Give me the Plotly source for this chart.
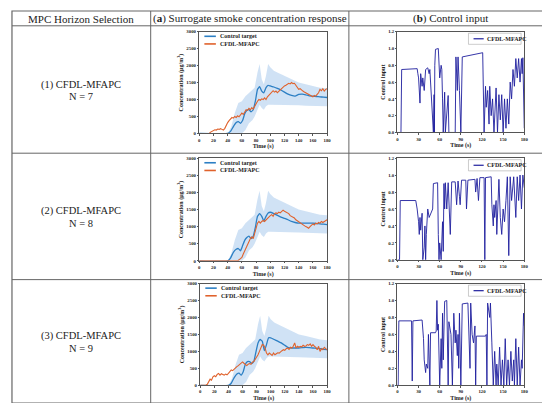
import plotly.graph_objects as go

# ---------------- data ----------------
row_labels = ["(1) CFDL-MFAPC", "(2) CFDL-MFAPC", "(3) CFDL-MFAPC"]
row_n = ["N = 7", "N = 8", "N = 9"]
headers = ["MPC Horizon Selection",
           "(<b>a</b>) Surrogate smoke concentration response",
           "(<b>b</b>) Control input"]

conc_xticks = [0, 20, 40, 60, 80, 100, 120, 140, 160, 180]
conc_yticks = [0, 500, 1000, 1500, 2000, 2500, 3000]
ctrl_xticks = [0, 30, 60, 90, 120, 150, 180]
ctrl_yticks = [0.0, 0.2, 0.4, 0.6, 0.8, 1.0, 1.2]

# uncertainty band around the control target
band_t = [0, 40, 45, 50, 55, 60, 65, 70, 75, 78, 82, 85, 88, 91, 94, 97, 100, 105, 110, 120, 130, 140, 150, 160, 170, 180]
band_hi = [0, 0, 200, 600, 900, 950, 1100, 1200, 1300, 1350, 1800, 2050, 1600, 1450, 1700, 2050, 1950, 1850, 1800, 1700, 1600, 1500, 1450, 1400, 1350, 1330]
band_lo = [0, 0, 0, 0, 0, 0, 100, 300, 400, 500, 700, 850, 750, 700, 800, 850, 850, 850, 850, 850, 850, 830, 820, 810, 800, 800]

# control target (blue)
target_t = [0, 40, 44, 48, 52, 55, 58, 61, 64, 67, 70, 73, 76, 79, 82, 85, 88, 91, 94, 97, 100, 105, 110, 115, 120, 125, 130, 135, 140, 145, 150, 155, 160, 165, 170, 175, 180]
target_1 = [0, 0, 60, 200, 320, 350, 300, 380, 580, 680, 700, 640, 700, 950, 1300, 1380, 1250, 1200, 1350, 1420, 1400, 1370, 1330, 1280, 1220, 1160, 1120, 1100, 1150, 1160, 1140, 1110, 1100, 1090, 1080, 1070, 1060]
target_2 = [0, 0, 80, 250, 340, 360, 290, 440, 600, 680, 720, 650, 720, 980, 1300, 1380, 1300, 1160, 1300, 1400, 1420, 1380, 1330, 1280, 1240, 1200, 1150, 1120, 1100, 1100, 1100, 1100, 1100, 1090, 1080, 1070, 1060]
target_3 = [0, 0, 60, 220, 330, 360, 300, 400, 620, 700, 700, 640, 700, 980, 1250, 1350, 1300, 1020, 1200, 1400, 1400, 1350, 1300, 1250, 1180, 1110, 1100, 1100, 1100, 1110, 1120, 1110, 1100, 1090, 1080, 1060, 1050]

# CFDL-MFAPC response (orange)
resp_t = list(range(0, 182, 2))
resp_1 = [0, 0, 0, 0, 0, 0, 0, 0, 40, 70, 90, 110, 100, 130, 120, 140, 120, 100, 150, 250,
          320, 380, 430, 470, 450, 500, 470, 520, 490, 540, 600, 560, 640, 700, 680, 740, 700, 760, 720, 800,
          900, 950, 1000, 980, 1020, 1000, 1050, 1000, 1080, 1120, 1150, 1200, 1260, 1220, 1250, 1200, 1240, 1300, 1320, 1360,
          1400, 1420, 1450, 1480, 1460, 1500, 1470, 1480, 1420, 1350, 1300, 1320, 1270, 1250, 1220, 1200, 1180, 1150, 1120, 1100,
          1080, 1120, 1100, 1150, 1200, 1300, 1260, 1320, 1250, 1300, 1320]
resp_2 = [0, 0, 0, 0, 0, 0, 0, 0, 0, 0, 0, 0, 0, 0, 0, 0, 0, 0, 0, 0,
          0, 0, 0, 0, 0, 0, 0, 0, 30, 60, 100, 200, 300, 400, 500, 600, 650, 700, 650, 800,
          950, 1100, 1150, 1100, 1150, 1180, 1150, 1200, 1250, 1300, 1320, 1350, 1300, 1380, 1400, 1380, 1420, 1400, 1450, 1480,
          1450, 1420, 1400, 1380, 1320, 1300, 1280, 1250, 1200, 1170, 1150, 1100, 1080, 1050, 1020, 1000, 980, 950, 1000, 1050,
          1080, 1050, 1100, 1080, 1120, 1100, 1150, 1120, 1150, 1180, 1200]
resp_3 = [0, 0, 0, 0, 0, 30, 100, 180, 150, 250, 280, 250, 320, 350, 300, 340, 320, 300, 330, 310,
          350, 400, 450, 430, 480, 500, 550, 580, 620, 660, 690, 650, 600, 580, 620, 640, 620, 680, 700, 760,
          820, 900, 1000, 1100, 1200, 1180, 1100, 950, 900, 950, 920, 880, 950, 900, 930, 960, 950, 1000, 1020, 1050,
          1030, 1080, 1100, 1060, 1120, 1100, 1150, 1250, 1100, 1150, 1120, 1150, 1130, 1180, 1150, 1160, 1200, 1180, 1220, 1150,
          1200, 1150, 1120, 1050, 1150, 1000, 1080, 1050, 1120, 1080, 1050]

# control input (navy)
ctrl_t_1 = [0, 5, 6, 28, 29, 30, 32, 33, 35, 36, 38, 40, 43, 45, 46, 48, 49, 51, 52, 52.5, 53, 54, 58, 59, 60, 62, 63, 64,
            65, 67, 68, 72, 73, 82, 83, 85, 86, 88, 90, 92, 121, 123, 125, 126, 128, 130, 131, 133, 135, 137, 140, 142,
            144, 146, 148, 150, 152, 154, 156, 158, 160, 162, 164, 166, 168, 170, 172, 174, 176, 177, 178, 180]
ctrl_1 = [0, 0, 0.75, 0.76, 0.70, 0.65, 0.35, 0.70, 0.55, 0.65, 0.50, 0.75, 0.77, 0.70, 0.75, 0.45, 0.25, 0.0, 0.45, 0.0,
          0.80, 0.99, 1.0, 0.80, 0.65, 0.80, 0.75, 0.40, 0.0, 0.48, 0.0, 0.44, 0.0, 0.0, 0.90, 0.50, 0.90, 0.50, 0.0, 0.90,
          0.95, 0.0, 0.55, 0.30, 0.50, 0.10, 0.55, 0.20, 0.40, 0.0, 0.53, 0.0, 0.45, 0.15, 0.45, 0.0, 0.40, 0.05, 0.40, 0.10,
          0.60, 0.40, 0.75, 0.55, 0.88, 0.65, 0.88, 0.60, 0.88, 0.70, 0.89, 0.05]
ctrl_t_2 = [0, 3, 4, 26, 28, 29, 30, 31, 32, 33, 35, 36, 38, 39, 40, 41, 42, 43, 45, 48, 50, 51, 57, 58, 59, 60, 62, 64, 65,
            66, 67, 68, 70, 72, 75, 77, 82, 84, 86, 88, 89, 91, 97, 98, 100, 110, 111, 113, 115, 117, 123, 124, 125, 133,
            134, 136, 137, 138, 140, 141, 142, 144, 146, 148, 150, 152, 154, 156, 158, 160, 162, 165, 168, 170, 172, 174,
            176, 178, 180]
ctrl_2 = [0, 0, 0.70, 0.70, 0.60, 0.55, 0.45, 0.30, 0.50, 0.35, 0.55, 0.0, 0.15, 0.40, 0.0, 0.30, 0.55, 0.60, 0.50, 0.55,
          0.60, 0.90, 0.91, 0.30, 0.0, 0.20, 0.0, 0.45, 0.10, 0.90, 0.60, 0.91, 0.60, 0.91, 0.30, 0.92, 0.92, 0.65, 0.93, 0.75,
          0.65, 0.94, 0.94, 0.60, 0.94, 0.95, 0.80, 0.96, 0.70, 0.97, 0.97, 0.0, 0.97, 0.98, 0.65, 0.40, 0.65, 0.50, 0.70, 0.30,
          0.55, 0.95, 0.50, 0.30, 0.60, 0.45, 0.70, 0.98, 0.05, 0.98, 0.70, 0.98, 0.50, 0.98, 0.70, 1.0, 0.60, 1.0, 0.85]
ctrl_t_3 = [0, 1, 2, 20, 21, 22, 35, 37, 38, 40, 41, 43, 44, 46, 47, 54, 55, 56, 57, 58, 60, 62, 63, 64, 65, 67, 70, 72, 73,
            76, 78, 80, 82, 83, 85, 86, 87, 88, 90, 92, 100, 102, 103, 104, 106, 108, 110, 111, 112, 125, 126, 127, 128, 131,
            132, 134, 136, 138, 140, 141, 143, 145, 147, 149, 151, 153, 155, 157, 159, 161, 163, 165, 166, 168, 170, 172,
            174, 176, 177, 179, 180]
ctrl_3 = [0, 0, 0.76, 0.76, 0.05, 0.76, 0.77, 0.55, 0.30, 0.15, 0.25, 0.20, 0.60, 0.0, 0.62, 0.62, 0.64, 1.0, 0.65, 0.72,
          0.0, 0.55, 0.20, 0.85, 0.30, 0.99, 1.0, 0.0, 0.75, 0.60, 0.0, 0.85, 0.50, 0.65, 0.35, 0.60, 0.20, 0.85, 0.0, 0.96,
          0.97, 0.50, 0.20, 0.97, 0.60, 0.50, 0.70, 0.0, 0.58, 0.58, 0.60, 0.0, 0.97, 0.80, 0.97, 0.50, 0.0, 0.40, 0.0, 0.25,
          0.0, 0.45, 0.0, 0.30, 0.0, 0.55, 0.0, 0.30, 0.0, 0.40, 0.05, 0.30, 0.0, 0.55, 0.0, 0.45, 0.0, 0.30, 0.20, 0.85, 0.70]

targets = [target_1, target_2, target_3]
responses = [resp_1, resp_2, resp_3]
ctrl_times = [ctrl_t_1, ctrl_t_2, ctrl_t_3]
ctrls = [ctrl_1, ctrl_2, ctrl_3]

# ---------------- layout helpers ----------------
W, H = 550, 403
SERIF = "Liberation Serif"
BLUE = "#2c7fc4"
ORANGE = "#e0622c"
NAVY = "#1f1f9e"
LINE = "#666666"


def px(x):
    return x / W


def py(y):
    return 1 - y / H


# pixel boxes of the six plot areas: (left, right, top, bottom)
conc_boxes = [(192, 321, 22, 125), (192, 321, 150, 254), (193, 321, 277, 380)]
ctrl_boxes = [(392, 520, 22, 124), (392, 520, 150, 253), (392, 520, 277, 380)]

fig = go.Figure()
layout = {}
shapes = []
annotations = []

tickfont = dict(family=SERIF, size=4.8, color="#222", weight="bold")
titlefont = dict(family=SERIF, size=6, color="#222", weight="bold")


def axis(box, horizontal, ticks, rng, title, anchor):
    l, r, t, b = box
    dom = [px(l), px(r)] if horizontal else [py(b), py(t)]
    return dict(domain=dom, range=rng, tickvals=ticks, anchor=anchor,
                showline=True, mirror=True, linecolor="#555", linewidth=0.7,
                ticks="outside", ticklen=1.5, tickwidth=0.6, tickcolor="#555",
                showgrid=False, zeroline=False, tickfont=tickfont,
                title=dict(text=title, font=titlefont, standoff=2),
                ticklabelstandoff=0)


for i in range(3):
    ca = 2 * i + 1
    ka = 2 * i + 2
    cx, cy = ("x", "y") if ca == 1 else (f"x{ca}", f"y{ca}")
    kx, ky = f"x{ka}", f"y{ka}"

    # concentration panel
    fig.add_trace(go.Scatter(x=band_t, y=band_lo, mode="lines", line=dict(width=0),
                             xaxis=cx, yaxis=cy, showlegend=False, hoverinfo="skip"))
    fig.add_trace(go.Scatter(x=band_t, y=band_hi, mode="lines", line=dict(width=0),
                             fill="tonexty", fillcolor="rgba(120,172,226,0.35)",
                             xaxis=cx, yaxis=cy, showlegend=False, hoverinfo="skip"))
    fig.add_trace(go.Scatter(x=target_t, y=targets[i], mode="lines", name="Control target",
                             line=dict(color=BLUE, width=1.3, shape="spline", smoothing=0.35),
                             xaxis=cx, yaxis=cy, showlegend=False))
    fig.add_trace(go.Scatter(x=resp_t, y=responses[i], mode="lines", name="CFDL-MFAPC",
                             line=dict(color=ORANGE, width=1.1),
                             xaxis=cx, yaxis=cy, showlegend=False))

    # control input panel
    fig.add_trace(go.Scatter(x=ctrl_times[i], y=ctrls[i], mode="lines", name="CFDL-MFAPC",
                             line=dict(color=NAVY, width=0.9),
                             xaxis=kx, yaxis=ky, showlegend=False))

    xa = "xaxis" if ca == 1 else f"xaxis{ca}"
    ya = "yaxis" if ca == 1 else f"yaxis{ca}"
    layout[xa] = axis(conc_boxes[i], True, conc_xticks, [0, 180], "Time (s)", cy)
    layout[ya] = axis(conc_boxes[i], False, conc_yticks, [0, 3000],
                      "Concentration (μg/m<sup>3</sup>)", cx)
    layout[f"xaxis{ka}"] = axis(ctrl_boxes[i], True, ctrl_xticks, [0, 180], "Time (s)", ky)
    layout[f"yaxis{ka}"] = axis(ctrl_boxes[i], False, ctrl_yticks, [0, 1.2], "Control input", kx)
    layout[f"yaxis{ka}"]["tickformat"] = ".1f"

    # hand-drawn legends (compact keys like the original)
    for j, (lab, col) in enumerate([("Control target", BLUE), ("CFDL-MFAPC", ORANGE)]):
        yy = 0.955 - j * 0.075
        shapes.append(dict(type="line", xref=f"{cx} domain", yref=f"{cy} domain",
                           x0=0.04, x1=0.13, y0=yy, y1=yy, line=dict(color=col, width=1.6)))
        annotations.append(dict(xref=f"{cx} domain", yref=f"{cy} domain", x=0.145, y=yy,
                                text=lab, showarrow=False, xanchor="left", yanchor="middle",
                                font=dict(family=SERIF, size=6, color="#222", weight="bold")))
    shapes.append(dict(type="rect", xref=f"{kx} domain", yref=f"{ky} domain",
                       x0=0.56, x1=0.975, y0=0.875, y1=0.985,
                       line=dict(color="#999", width=0.5), fillcolor="white"))
    shapes.append(dict(type="line", xref=f"{kx} domain", yref=f"{ky} domain",
                       x0=0.6, x1=0.68, y0=0.93, y1=0.93, line=dict(color=NAVY, width=1.2)))
    annotations.append(dict(xref=f"{kx} domain", yref=f"{ky} domain", x=0.69, y=0.93,
                            text="CFDL-MFAPC", showarrow=False, xanchor="left", yanchor="middle",
                            font=dict(family=SERIF, size=6, color="#222", weight="bold")))

    # left column text
    mid = [(16 + 145) / 2, (145 + 273) / 2, (273 + 398) / 2][i]
    annotations.append(dict(xref="paper", yref="paper", x=px(73), y=py(mid - 5),
                            text=row_labels[i], showarrow=False,
                            xanchor="center", yanchor="middle",
                            font=dict(family=SERIF, size=10.5, color="#222")))
    annotations.append(dict(xref="paper", yref="paper", x=px(73), y=py(mid + 7),
                            text=row_n[i], showarrow=False,
                            xanchor="center", yanchor="middle",
                            font=dict(family=SERIF, size=10.5, color="#222")))

# table header
for x_c, txt in zip([73, 243, 446], headers):
    annotations.append(dict(xref="paper", yref="paper", x=px(x_c), y=py(9), text=txt,
                            showarrow=False, xanchor="center", yanchor="middle",
                            font=dict(family=SERIF, size=11, color="#222")))

# table grid lines
for yy in [16, 145, 273]:
    shapes.append(dict(type="line", xref="paper", yref="paper", x0=px(3), x1=px(547),
                       y0=py(yy), y1=py(yy), line=dict(color=LINE, width=1)))
for xx in [143, 343]:
    shapes.append(dict(type="line", xref="paper", yref="paper", x0=px(xx), x1=px(xx),
                       y0=py(1), y1=py(398), line=dict(color=LINE, width=1)))
shapes.append(dict(type="rect", xref="paper", yref="paper", x0=px(3), x1=px(547),
                   y0=py(398), y1=py(1), line=dict(color=LINE, width=1.2)))

fig.update_layout(width=W, height=H, margin=dict(l=0, r=0, t=0, b=0),
                  paper_bgcolor="white", plot_bgcolor="white",
                  shapes=shapes, annotations=annotations, showlegend=False, **layout)

fig.write_html("out.html")
